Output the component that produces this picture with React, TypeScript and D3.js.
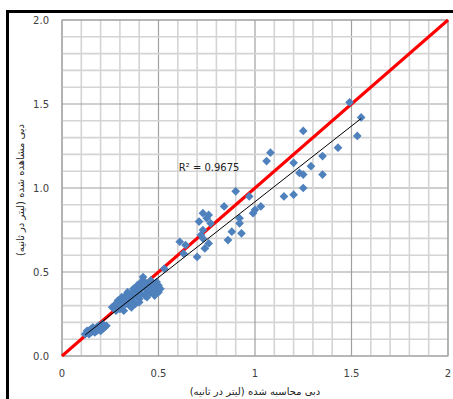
import { useEffect, useRef } from "react";
import * as d3 from "d3";

// calculated discharge (x) vs observed discharge (y), l/s
const lowX = [0.12, 0.13, 0.13, 0.14, 0.14, 0.15, 0.15, 0.16, 0.16, 0.17, 0.17, 0.18, 0.18, 0.19, 0.19, 0.2, 0.2, 0.21, 0.21, 0.22, 0.22, 0.23];
const lowY = [0.13, 0.14, 0.15, 0.13, 0.15, 0.14, 0.16, 0.15, 0.17, 0.14, 0.16, 0.15, 0.17, 0.16, 0.18, 0.17, 0.15, 0.16, 0.19, 0.18, 0.17, 0.18];

const midX = [0.26, 0.27, 0.28, 0.28, 0.29, 0.3, 0.3, 0.31, 0.31, 0.32, 0.32, 0.33, 0.33, 0.34, 0.34, 0.35, 0.35, 0.36, 0.36, 0.37, 0.37, 0.38, 0.38, 0.39, 0.39, 0.4, 0.4, 0.41, 0.41, 0.42, 0.42, 0.43, 0.43, 0.44, 0.44, 0.45, 0.45, 0.46, 0.46, 0.47, 0.47, 0.48, 0.48, 0.49, 0.49, 0.5, 0.5, 0.51, 0.36, 0.4, 0.53];
const midY = [0.29, 0.3, 0.31, 0.27, 0.33, 0.28, 0.32, 0.35, 0.3, 0.34, 0.27, 0.36, 0.31, 0.33, 0.38, 0.35, 0.3, 0.37, 0.33, 0.4, 0.35, 0.38, 0.31, 0.42, 0.36, 0.39, 0.34, 0.44, 0.37, 0.47, 0.41, 0.36, 0.44, 0.39, 0.35, 0.42, 0.37, 0.45, 0.4, 0.38, 0.43, 0.41, 0.36, 0.39, 0.44, 0.42, 0.38, 0.4, 0.29, 0.32, 0.52];

const upX = [0.61, 0.64, 0.63, 0.7, 0.72, 0.73, 0.76, 0.74, 0.73, 0.75, 0.71, 0.77, 0.76, 0.73, 0.84, 0.86, 0.88, 0.93, 0.92, 0.92, 0.9, 0.97, 0.99, 1.0, 1.03];
const upY = [0.68, 0.66, 0.61, 0.59, 0.72, 0.7, 0.67, 0.64, 0.85, 0.82, 0.8, 0.79, 0.84, 0.75, 0.89, 0.69, 0.74, 0.73, 0.82, 0.79, 0.98, 0.95, 0.85, 0.87, 0.89];

const topX = [1.06, 1.08, 1.15, 1.2, 1.2, 1.23, 1.25, 1.25, 1.25, 1.29, 1.35, 1.35, 1.43, 1.49, 1.53, 1.55];
const topY = [1.16, 1.21, 0.95, 0.96, 1.15, 1.09, 1.08, 1.0, 1.34, 1.13, 1.08, 1.19, 1.24, 1.51, 1.31, 1.42];

const xTicks = [0, 0.5, 1, 1.5, 2];
const yTicks = [0, 0.5, 1, 1.5, 2];
const xTitle = "دبی محاسبه شده (لیتر در ثانیه)";
const yTitle = "دبی مشاهده شده (لیتر در ثانیه)";
const r2Label = "R² = 0.9675";

const App = () => {
  const ref = useRef<SVGSVGElement>(null);

  useEffect(() => {
    if (!ref.current) return;
    const svg = d3.select(ref.current);
    svg.selectAll("*").remove();

    const xs = [...lowX, ...midX, ...upX, ...topX];
    const ys = [...lowY, ...midY, ...upY, ...topY];
    const pts = xs.map((x, i) => ({ x, y: ys[i] }));

    const x = d3.scaleLinear().domain([0, 2]).range([62, 448]);
    const y = d3.scaleLinear().domain([0, 2]).range([356, 20]);
    const font = "DejaVu Sans, Verdana, sans-serif";

    // outer frame
    svg.append("rect").attr("x", 7.5).attr("y", 11.5).attr("width", 600).attr("height", 600)
      .attr("fill", "none").attr("stroke", "#000").attr("stroke-width", 3);

    // grid
    const minor = d3.range(0, 21).map(d => d / 10);
    const g = svg.append("g");
    minor.forEach(v => {
      const major = Math.round(v * 10) % 5 === 0;
      const col = major ? "#a0a0a0" : "#d4d4d4";
      const sw = major ? 1.2 : 1.6;
      g.append("line").attr("x1", x(v)).attr("x2", x(v)).attr("y1", y(0)).attr("y2", y(2))
        .attr("stroke", col).attr("stroke-width", sw);
      g.append("line").attr("x1", x(0)).attr("x2", x(2)).attr("y1", y(v)).attr("y2", y(v))
        .attr("stroke", col).attr("stroke-width", sw);
    });
    g.append("rect").attr("x", x(0)).attr("y", y(2)).attr("width", x(2) - x(0)).attr("height", y(0) - y(2))
      .attr("fill", "none").attr("stroke", "#a0a0a0");

    // tick labels
    svg.selectAll(".yt").data(yTicks).join("text")
      .attr("x", 49).attr("y", d => y(d)).attr("dy", "0.35em").attr("text-anchor", "end")
      .attr("font-family", font).attr("font-size", 10).attr("fill", "#404040")
      .text(d => d.toFixed(1));
    svg.selectAll(".xt").data(xTicks).join("text")
      .attr("x", d => x(d)).attr("y", 377).attr("text-anchor", "middle")
      .attr("font-family", font).attr("font-size", 10).attr("fill", "#404040")
      .text(d => String(d));

    // 1:1 line
    svg.append("line").attr("x1", x(0)).attr("y1", y(0)).attr("x2", x(2)).attr("y2", y(2))
      .attr("stroke", "#ff0000").attr("stroke-width", 3);

    // points
    const sym = d3.symbol().type(d3.symbolSquare).size(38);
    svg.append("g").selectAll("path").data(pts).join("path")
      .attr("d", sym)
      .attr("transform", d => `translate(${x(d.x)},${y(d.y)}) rotate(45)`)
      .attr("fill", "#4f81bd");

    // linear trendline
    const mx = d3.mean(xs)!, my = d3.mean(ys)!;
    const sxy = d3.sum(pts, p => (p.x - mx) * (p.y - my));
    const sxx = d3.sum(pts, p => (p.x - mx) ** 2);
    const a = sxy / sxx, b = my - a * mx;
    const [x0, x1] = d3.extent(xs) as [number, number];
    svg.append("line").attr("x1", x(x0)).attr("y1", y(a * x0 + b)).attr("x2", x(x1)).attr("y2", y(a * x1 + b))
      .attr("stroke", "#000").attr("stroke-width", 1);

    svg.append("text").attr("x", x(0.605)).attr("y", y(1.12)).attr("dy", "0.35em")
      .attr("font-family", font).attr("font-size", 10).attr("fill", "#222").text(r2Label);

    // axis titles
    svg.append("text").attr("x", 255).attr("y", 395).attr("text-anchor", "middle")
      .attr("font-family", "DejaVu Sans, sans-serif").attr("font-size", 10).attr("fill", "#222").text(xTitle);
    svg.append("text").attr("transform", "translate(24,190) rotate(-90)").attr("text-anchor", "middle")
      .attr("font-family", "DejaVu Sans, sans-serif").attr("font-size", 10).attr("fill", "#222").text(yTitle);
  }, []);

  return <svg ref={ref} width={453} height={399} style={{ position: "absolute", left: 0, top: 0, background: "#fff" }} />;
};

export default App;
